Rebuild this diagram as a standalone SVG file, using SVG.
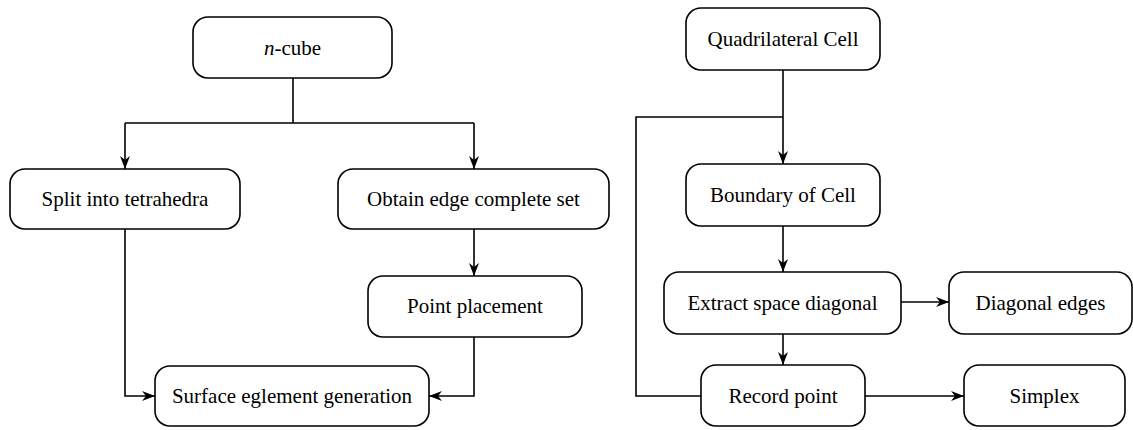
<svg xmlns="http://www.w3.org/2000/svg" width="1133" height="430" viewBox="0 0 1133 430">
<style>
.box{fill:#fff;stroke:#000;stroke-width:1.6}
.lbl{font-family:"Liberation Serif","Times New Roman",serif;font-size:21px;fill:#000;text-anchor:middle}
.ln{fill:none;stroke:#000;stroke-width:1.6}
.ar{fill:none;stroke:#000;stroke-width:1.6;marker-end:url(#ah)}
</style>
<defs>
<marker id="ah" markerUnits="userSpaceOnUse" markerWidth="14" markerHeight="10" viewBox="0 0 14 10" refX="13" refY="5" orient="auto">
<path d="M0,0 L13,5 L0,10 L4,5 Z" fill="#000"/>
</marker>
</defs>
<rect width="1133" height="430" fill="#fff"/>
<g id="connectors">
<path class="ln" d="M293,78 V123 M125,123 H474"/>
<path class="ar" d="M125,123 V169"/>
<path class="ar" d="M474,123 V169"/>
<path class="ar" d="M125,229 V396 H155"/>
<path class="ar" d="M474,229 V276"/>
<path class="ar" d="M474,337 V396 H429"/>
<path class="ar" d="M783,70 V164"/>
<path class="ln" d="M783,117 H636 V396 H701"/>
<path class="ar" d="M783,226 V272"/>
<path class="ar" d="M901,302 H949"/>
<path class="ar" d="M783,334 V365"/>
<path class="ar" d="M865,396 H964"/>
</g>
<g id="n-cube"><rect class="box" x="193" y="17" width="199" height="61" rx="15"/><text class="lbl" x="292.5" y="55"><tspan font-style="italic">n</tspan>-cube</text></g>
<g id="split"><rect class="box" x="10" y="169" width="230" height="60" rx="15"/><text class="lbl" x="125" y="206">Split into tetrahedra</text></g>
<g id="obtain"><rect class="box" x="338" y="169" width="271" height="60" rx="15"/><text class="lbl" x="473.5" y="206">Obtain edge complete set</text></g>
<g id="point"><rect class="box" x="368" y="276" width="214" height="61" rx="15"/><text class="lbl" x="475" y="313">Point placement</text></g>
<g id="surface"><rect class="box" x="155" y="366" width="274" height="60" rx="15"/><text class="lbl" x="292" y="403">Surface eglement generation</text></g>
<g id="quad"><rect class="box" x="686" y="8" width="194" height="62" rx="15"/><text class="lbl" x="783" y="46">Quadrilateral Cell</text></g>
<g id="boundary"><rect class="box" x="686" y="164" width="194" height="62" rx="15"/><text class="lbl" x="783" y="202">Boundary of Cell</text></g>
<g id="extract"><rect class="box" x="664" y="272" width="237" height="62" rx="15"/><text class="lbl" x="782.5" y="310">Extract space diagonal</text></g>
<g id="diagonal"><rect class="box" x="949" y="272" width="183" height="62" rx="15"/><text class="lbl" x="1040.5" y="310">Diagonal edges</text></g>
<g id="record"><rect class="box" x="701" y="365" width="164" height="61" rx="15"/><text class="lbl" x="783" y="403">Record point</text></g>
<g id="simplex"><rect class="box" x="964" y="365" width="161" height="61" rx="15"/><text class="lbl" x="1044.5" y="403">Simplex</text></g>
</svg>
